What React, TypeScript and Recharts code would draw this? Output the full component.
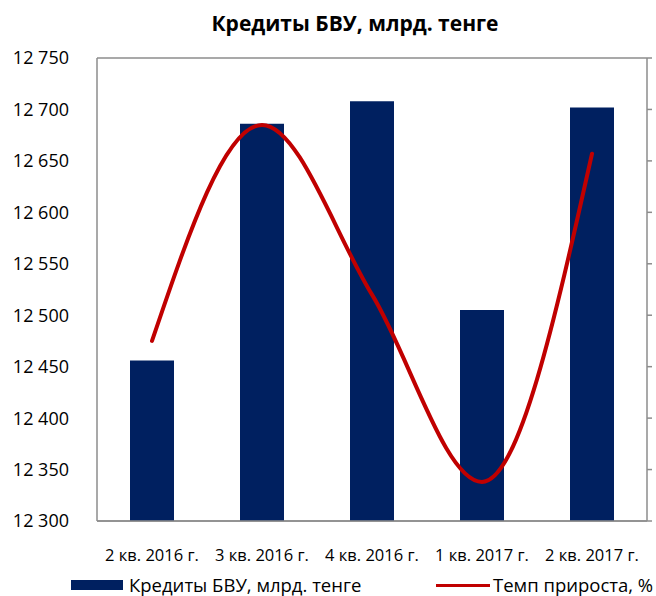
import React from "react";
import { ComposedChart, Bar, Line, XAxis, YAxis, CartesianGrid } from "recharts";

const quarters = ["2 кв. 2016 г.", "3 кв. 2016 г.", "4 кв. 2016 г.", "1 кв. 2017 г.", "2 кв. 2017 г."];
const credits = [12456, 12686, 12708, 12505, 12702];
const growth = [12475, 12685, 12520, 12338, 12657];
const yTicks = [12300, 12350, 12400, 12450, 12500, 12550, 12600, 12650, 12700, 12750];

const NAVY = "#002060";
const RED = "#C00000";
const GRID = "#8c8c8c";
const FONT = "'Open Sans', sans-serif";

const data = quarters.map((q, i) => ({ q, credits: credits[i], growth: growth[i] }));

const fmt = (v: number) => {
  const s = String(v);
  return s.slice(0, s.length - 3) + " " + s.slice(-3);
};

export default function App() {
  return (
    <div style={{ position: "absolute", left: 0, top: 0, width: 656, height: 596, fontFamily: FONT, background: "#fff", overflow: "hidden" }}>
      <div style={{ position: "absolute", top: 9, left: 0, width: 710, textAlign: "center", fontWeight: 700, fontSize: 21, lineHeight: "29px", color: "#000" }}>
        Кредиты БВУ, млрд. тенге
      </div>
      <ComposedChart width={656} height={596} data={data} margin={{ top: 58, right: 3, left: 0, bottom: 35 }} barCategoryGap="30%">
        <CartesianGrid vertical={false} stroke={GRID} strokeWidth={1.5} />
        <XAxis
          dataKey="q"
          axisLine={{ stroke: GRID, strokeWidth: 1.5 }}
          tickLine={false}
          height={40}
          tickMargin={22}
          tick={{ fill: "#000", fontSize: 16.5, fontFamily: FONT }}
          interval={0}
        />
        <YAxis
          yAxisId="left"
          domain={[12300, 12750]}
          ticks={yTicks}
          tickFormatter={fmt}
          width={97}
          axisLine={{ stroke: GRID, strokeWidth: 1.5 }}
          tickLine={false}
          tickMargin={22}
          tick={{ fill: "#000", fontSize: 18, fontFamily: FONT }}
        />
        <YAxis
          yAxisId="right"
          orientation="right"
          domain={[12300, 12750]}
          ticks={yTicks}
          tickFormatter={() => ""}
          width={6}
          axisLine={{ stroke: GRID, strokeWidth: 1.5 }}
          tickLine={{ stroke: GRID, strokeWidth: 1.5 }}
          tickSize={5}
        />
        <Bar yAxisId="left" dataKey="credits" fill={NAVY} isAnimationActive={false} />
        <Line
          yAxisId="right"
          dataKey="growth"
          type="monotone"
          stroke={RED}
          strokeWidth={4}
          strokeLinecap="round"
          dot={false}
          activeDot={false}
          isAnimationActive={false}
        />
      </ComposedChart>
      <div style={{ position: "absolute", top: 575, left: 71, height: 20, display: "flex", alignItems: "center", fontSize: 18.5, lineHeight: "20px", color: "#000", whiteSpace: "nowrap" }}>
        <span style={{ display: "inline-block", width: 52, height: 10, background: NAVY, marginRight: 6 }} />
        Кредиты БВУ, млрд. тенге
      </div>
      <div style={{ position: "absolute", top: 575, left: 436, height: 20, display: "flex", alignItems: "center", fontSize: 18.5, lineHeight: "20px", color: "#000", whiteSpace: "nowrap" }}>
        <span style={{ display: "inline-block", width: 54, height: 3, background: RED, marginRight: 3 }} />
        Темп прироста, %
      </div>
    </div>
  );
}
